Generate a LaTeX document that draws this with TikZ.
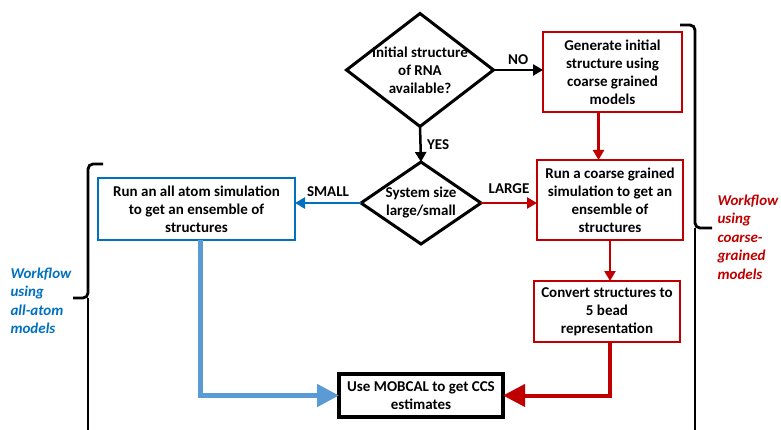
\documentclass[tikz,border=0pt]{standalone}
\usepackage{fontspec}
\setmainfont{Carlito}
\usetikzlibrary{shapes.geometric,arrows.meta}
\definecolor{cgred}{HTML}{C00000}
\definecolor{aablue}{HTML}{0070C0}
\definecolor{aalight}{HTML}{5B9BD5}

\begin{document}
\begin{tikzpicture}[
                x=1pt, y=-1pt,
                >={Triangle[length=10pt,width=11pt]},
                font=\fontsize{15}{18}\selectfont\bfseries,
                stepbox/.style={draw, line width=2.8pt, align=center, inner sep=0pt, outer sep=0pt},
                decision/.style={diamond, draw, line width=3pt, inner sep=0pt, outer sep=0pt},
                flow/.style={->, line width=2.5pt},
                bigflow/.style={-{Triangle[length=22pt,width=22pt]}, line width=5pt},
                brace/.style={line width=2.8pt, rounded corners=5pt}
            ]
            \useasboundingbox (0,0) rectangle (781,430);

            % 判断框
            \node[decision, minimum width=147pt, minimum height=113pt] (rna) at (420,70) {};
            \node[align=center] (rnatext) at (rna) {Initial structure\\of RNA\\available?};
            \node[decision, minimum width=120pt, minimum height=82pt] (size) at (421,203) {};
            \node[align=center] (sizetext) at (size) {System size\\large/small};

            % 粗粒化流程 (红色)
            \node[stepbox, cgred, text=black, minimum width=139pt, minimum height=80pt] (gen) at (612.5,72)
                {Generate initial\\structure using\\coarse grained\\models};
            \node[stepbox, cgred, text=black, minimum width=146pt, minimum height=80pt] (run) at (610,200)
                {Run a coarse grained\\simulation to get an\\ensemble of\\structures};
            \node[stepbox, cgred, text=black, minimum width=146pt, minimum height=61pt] (convert) at (607,311.5)
                {Convert structures to\\5 bead\\representation};

            % 全原子流程 (蓝色)
            \node[stepbox, aablue, text=black, minimum width=197pt, minimum height=62pt] (allatom) at (196.5,209)
                {Run an all atom simulation\\to get an ensemble of\\structures};

            % 最终步骤
            \node[stepbox, line width=3.2pt, minimum width=164pt, minimum height=43pt] (mobcal) at (421,395.5)
                {Use MOBCAL to get CCS\\estimates};

            % 连线
            \draw[flow] (rna.east) -- (rna.east -| gen.west) node[midway, above=1pt] {NO};
            \draw[flow] (rna.south) -- (size.north) node[midway, right=2pt] {YES};
            \draw[flow, cgred] (size.east) -- (size.east -| run.west) node[midway, above=5pt, black] {LARGE};
            \draw[flow, aablue] (size.west) -- (size.west -| allatom.east) node[midway, above=2pt, black] {SMALL};
            \draw[flow, cgred] ([xshift=-14pt]gen.south) -- ([xshift=-14pt]gen.south |- run.north);
            \draw[flow, cgred] (run.south) -- (run.south |- convert.north);
            \draw[bigflow, aalight] ([xshift=4pt]allatom.south) |- (mobcal.west);
            \draw[bigflow, cgred, line width=4pt] ([xshift=3pt]convert.south) |- (mobcal.east);

            % 括号
            \draw[brace] (103,164) -| (88,298) -- (73,298);
            \draw[line width=2.8pt] (88,298) -- (88,435);
            \draw[brace] (680,25) -| (695,228) -- (712,228);
            \draw[line width=2.8pt] (695,228) -- (695,435);

            % 侧边说明
            \node[aablue, align=left, anchor=west, font=\fontsize{15}{18.5}\selectfont\bfseries\itshape] (aanote) at (7,301)
                {Workflow\\using\\all-atom\\models};
            \node[cgred, align=left, anchor=west, font=\fontsize{15}{18.5}\selectfont\bfseries\itshape] (cgnote) at (714,237)
                {Workflow\\using\\coarse-\\grained\\models};
        \end{tikzpicture}
\end{document}
